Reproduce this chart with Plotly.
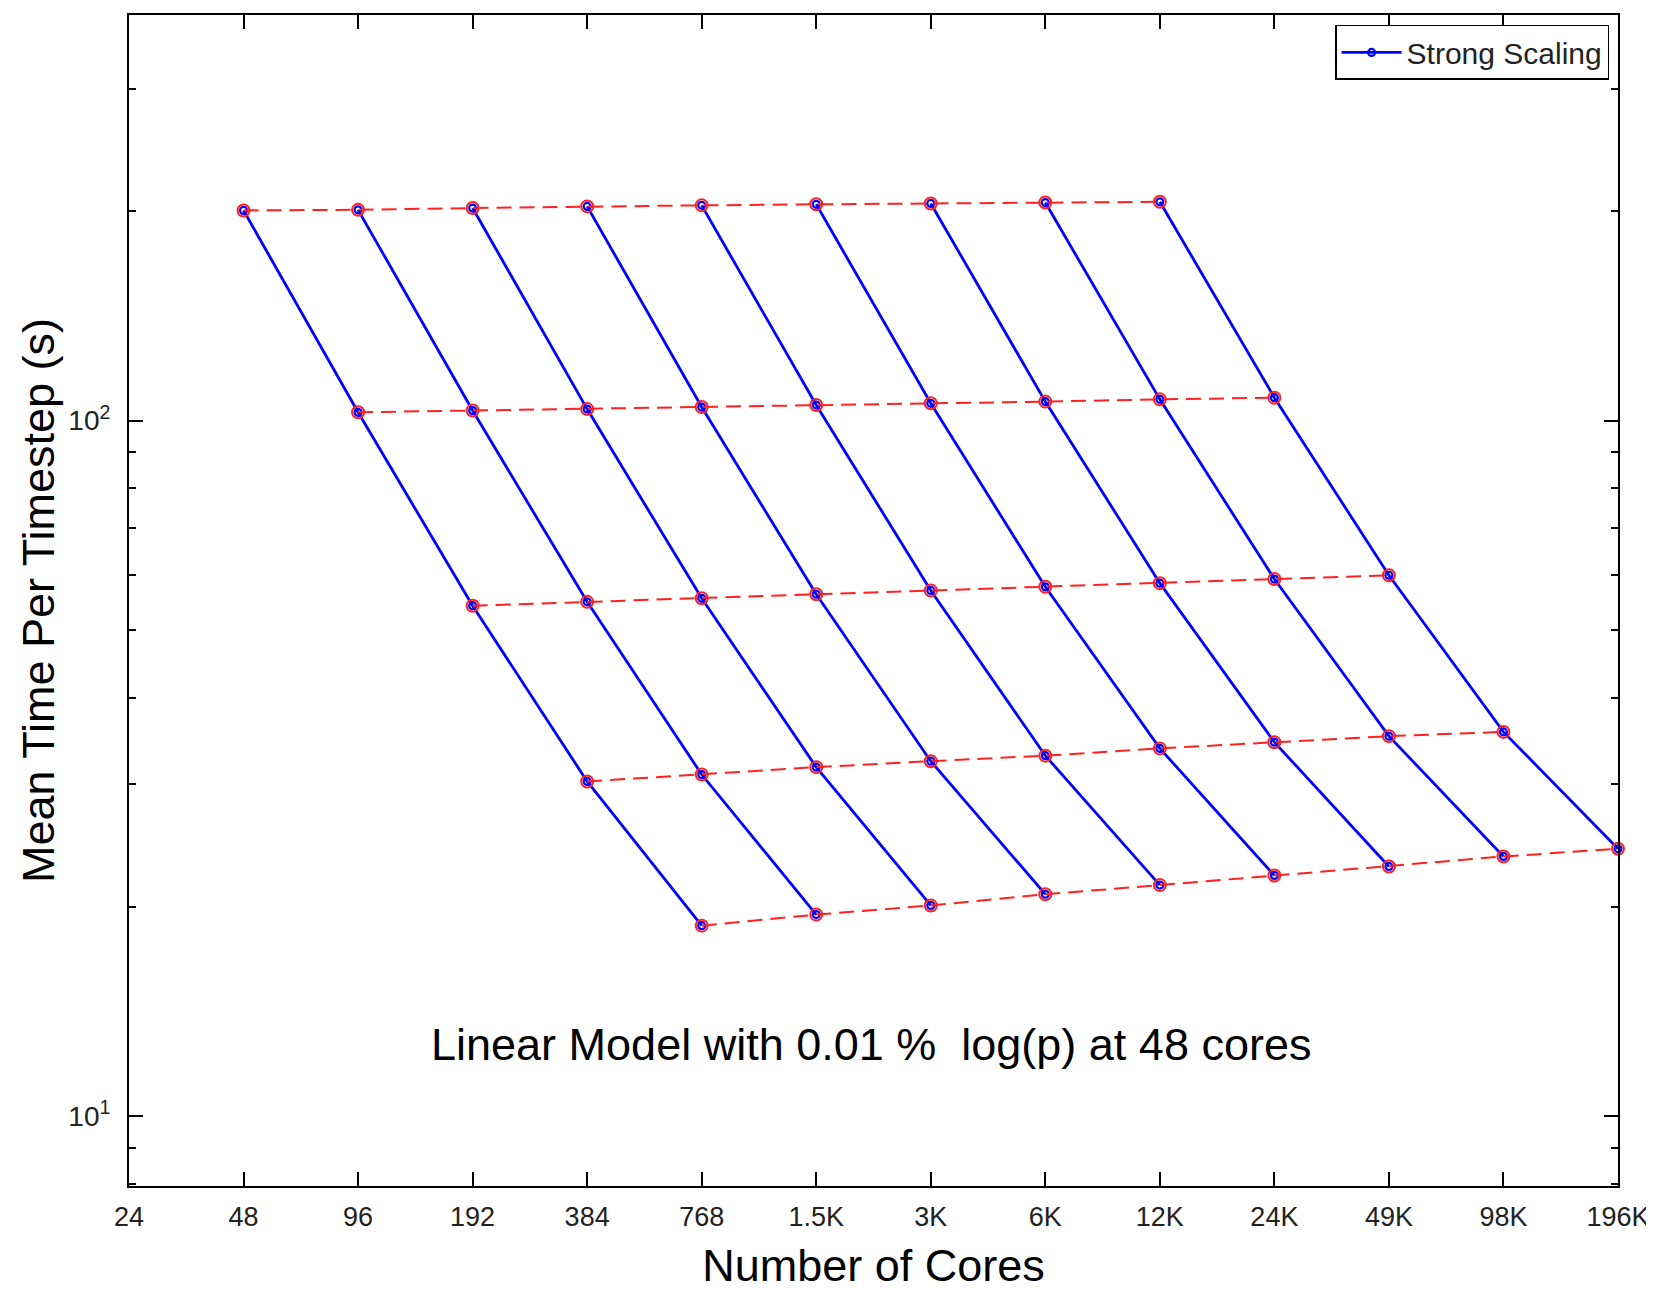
import plotly.graph_objects as go

# ---- data -------------------------------------------------------------
cores = [48, 96, 192, 384, 768, 1536, 3072, 6144, 12288, 24576, 49152, 98304, 196608]

# each weak row starts at cores[offset]; row r holds 9 points
row_offsets = [0, 1, 2, 3, 4]
row1 = [200.5, 200.9, 202.1, 203.2, 203.9, 204.6, 205.2, 205.8, 206.3]
row2 = [102.8, 103.4, 103.9, 104.6, 105.3, 105.9, 106.5, 107.3, 107.9]
row3 = [54.2, 54.9, 55.55, 56.3, 57.0, 57.7, 58.4, 59.2, 59.95]
row4 = [30.3, 31.0, 31.77, 32.4, 33.0, 33.8, 34.5, 35.2, 35.7]
row5 = [18.8, 19.5, 20.1, 20.86, 21.5, 22.2, 22.87, 23.64, 24.25]
rows = [row1, row2, row3, row4, row5]

xtick_vals = [24, 48, 96, 192, 384, 768, 1536, 3072, 6144, 12288, 24576, 49152, 98304, 196608]
xtick_text = ["24", "48", "96", "192", "384", "768", "1.5K", "3K", "6K", "12K", "24K", "49K", "98K", "196K"]
ytick_vals = [10, 100]
ytick_text = ["10<sup>1</sup>", "10<sup>2</sup>"]
yminor_vals = [8, 9, 20, 30, 40, 50, 60, 70, 80, 90, 200, 300]

FONT = "Liberation Sans, Arial, Helvetica, sans-serif"

fig = go.Figure()

# strong scaling lines (blue): line k passes through row r at column k+r
n_lines = len(row1)
for k in range(n_lines):
    xs = [cores[k + row_offsets[r]] for r in range(len(rows))]
    ys = [rows[r][k] for r in range(len(rows))]
    fig.add_trace(go.Scatter(
        x=xs, y=ys, mode="lines+markers",
        line=dict(color="#0000ff", width=2.8),
        marker=dict(symbol="circle-open", size=7, color="#0000ff", line=dict(width=2.2)),
        name="Strong Scaling", showlegend=(k == 0), cliponaxis=False,
    ))

# weak rows (red dashed)
for r, vals in enumerate(rows):
    xs = cores[row_offsets[r]: row_offsets[r] + len(vals)]
    fig.add_trace(go.Scatter(
        x=xs, y=vals, mode="lines+markers",
        line=dict(color="#ff2020", width=2, dash="15px,8px"),
        marker=dict(symbol="circle-open", size=12, color="#ff2020", line=dict(width=2)),
        showlegend=False, cliponaxis=False,
    ))

fig.add_annotation(
    text="Linear Model with 0.01 %  log(p) at 48 cores",
    xref="paper", yref="paper", x=0.498, y=0.1207,
    xanchor="center", yanchor="middle",
    showarrow=False, font=dict(family=FONT, size=45, color="black"),
)

fig.update_layout(
    width=1654, height=1289,
    margin=dict(l=121, r=44, t=7, b=111),
    paper_bgcolor="white", plot_bgcolor="white",
    font=dict(family=FONT, color="black"),
    legend=dict(
        x=0.994, y=0.9915, xanchor="right", yanchor="top",
        bgcolor="white", bordercolor="black", borderwidth=1.5,
        font=dict(family=FONT, size=30, color="#222"),
        itemwidth=60,
    ),
    xaxis=dict(
        type="log", range=[1.380211, 5.293603], automargin=False,
        tickvals=xtick_vals, ticktext=xtick_text,
        ticks="inside", ticklen=14, tickwidth=1.5, tickcolor="black",
        showline=True, linecolor="black", linewidth=2, mirror="ticks",
        showgrid=False, zeroline=False,
        tickfont=dict(family=FONT, size=27, color="#222"),
        ticklabelstandoff=6,
        title=dict(text="Number of Cores", font=dict(family=FONT, size=45, color="black"), standoff=18),
    ),
    yaxis=dict(
        type="log", range=[0.9, 2.583], automargin=False,
        tickvals=ytick_vals, ticktext=ytick_text,
        ticks="inside", ticklen=14, tickwidth=1.5, tickcolor="black",
        minor=dict(tickvals=yminor_vals, ticks="inside", ticklen=7, tickwidth=1.5, tickcolor="black"),
        showline=True, linecolor="black", linewidth=2, mirror="ticks",
        showgrid=False, zeroline=False,
        tickfont=dict(family=FONT, size=28, color="#222"),
        ticklabelstandoff=11,
        title=dict(text="Mean Time Per Timestep (s)", font=dict(family=FONT, size=45, color="black"), standoff=0),
    ),
)

fig.write_html("out.html")
